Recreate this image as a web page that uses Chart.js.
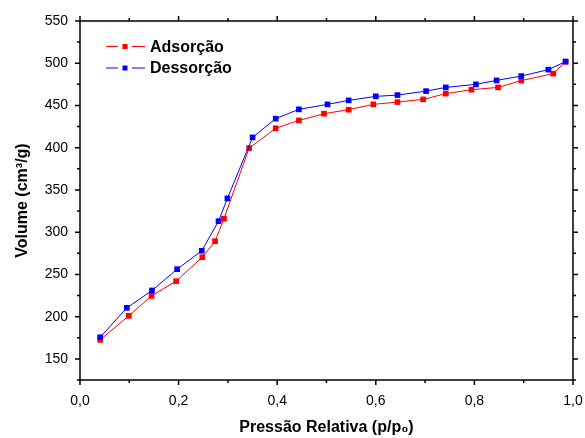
<!DOCTYPE html>
<html><head><meta charset="utf-8">
<script src="https://cdn.jsdelivr.net/npm/chart.js@4/dist/chart.umd.min.js"></script>
<style>html,body{margin:0;padding:0;background:#fff}</style>
</head><body>
<canvas id="c" width="585" height="438"></canvas>
<script>
const seriesNames = ['Adsorção', 'Dessorção'];
const adsX = [0.041, 0.099, 0.145, 0.195, 0.248, 0.274, 0.292, 0.343, 0.397, 0.444, 0.495, 0.545, 0.595, 0.644, 0.696, 0.742, 0.794, 0.848, 0.895, 0.960, 0.985];
const adsY = [172.5, 201, 224.6, 242, 270.4, 289.3, 316, 399.5, 423, 432.3, 440.3, 445, 451.3, 454, 457.2, 464, 468.7, 471.4, 479.4, 487.7, 501.9];
const desX = [0.041, 0.095, 0.146, 0.197, 0.247, 0.281, 0.299, 0.350, 0.397, 0.444, 0.502, 0.545, 0.600, 0.644, 0.702, 0.742, 0.803, 0.845, 0.895, 0.950, 0.985];
const desY = [175.6, 210.4, 231, 256.2, 278, 313, 340, 412.2, 434.4, 445.4, 451.3, 456, 460.8, 462.3, 467, 471.4, 475, 479.7, 484.8, 492.4, 501.9];
const xTicks = [0, 0.2, 0.4, 0.6, 0.8, 1.0];
const xMinorTicks = [0.1, 0.3, 0.5, 0.7, 0.9];
const yTicks = [150, 200, 250, 300, 350, 400, 450, 500, 550];
const yMinorTicks = [125, 175, 225, 275, 325, 375, 425, 475, 525];
const xTitle = 'Pressão Relativa (p/p\u2080)';
const yTitle = 'Volume (cm\u00B3/g)';
const colors = ['#FF0000', '#0000FF'];

const FONT = "'Liberation Sans', Arial, sans-serif";

const pts = (xs, ys) => xs.map((v, i) => ({x: v, y: ys[i]}));

const framePlugin = {
  id: 'frame',
  afterDraw(chart) {
    const {ctx, chartArea: a, scales: {x, y}} = chart;
    ctx.save();
    ctx.strokeStyle = '#000';
    ctx.lineWidth = 1.5;
    ctx.strokeRect(a.left, a.top, a.right - a.left, a.bottom - a.top);
    ctx.beginPath();
    const xt = (v, len) => {
      const px = x.getPixelForValue(v);
      ctx.moveTo(px, a.bottom); ctx.lineTo(px, a.bottom + len);
      ctx.moveTo(px, a.top); ctx.lineTo(px, a.top - len);
    };
    const yt = (v, len) => {
      const py = y.getPixelForValue(v);
      ctx.moveTo(a.left, py); ctx.lineTo(a.left - len, py);
      ctx.moveTo(a.right, py); ctx.lineTo(a.right + len, py);
    };
    xTicks.forEach(v => xt(v, 5));
    xMinorTicks.forEach(v => xt(v, 3));
    yTicks.forEach(v => yt(v, 5));
    yMinorTicks.forEach(v => yt(v, 3));
    ctx.stroke();

    // legend
    chart.data.datasets.forEach((ds, i) => {
      const ly = a.top + 25.5 + i * 21.5;
      const lx = a.left + 26;
      ctx.strokeStyle = ds.borderColor;
      ctx.lineWidth = 1;
      ctx.beginPath();
      ctx.moveTo(lx, ly); ctx.lineTo(lx + 12, ly);
      ctx.moveTo(lx + 26, ly); ctx.lineTo(lx + 39, ly);
      ctx.stroke();
      ctx.fillStyle = ds.borderColor;
      ctx.fillRect(lx + 16.5, ly - 2.5, 5, 5);
      ctx.fillStyle = '#000';
      ctx.font = 'bold 16px ' + FONT;
      ctx.textBaseline = 'middle';
      ctx.textAlign = 'left';
      ctx.fillText(ds.label, lx + 44, ly + 1);
    });
    ctx.restore();
  }
};

new Chart(document.getElementById('c'), {
  type: 'scatter',
  data: {
    datasets: [
      {label: seriesNames[0], data: pts(adsX, adsY), borderColor: colors[0], backgroundColor: colors[0],
       showLine: true, borderWidth: 1, pointStyle: 'rect', pointRadius: 4, pointBorderWidth: 0, order: 1},
      {label: seriesNames[1], data: pts(desX, desY), borderColor: colors[1], backgroundColor: colors[1],
       showLine: true, borderWidth: 1, pointStyle: 'rect', pointRadius: 4, pointBorderWidth: 0, order: 0}
    ]
  },
  options: {
    responsive: false,
    devicePixelRatio: 1,
    animation: false,
    layout: {padding: {top: 21, right: 12, left: 0, bottom: 0}},
    plugins: {legend: {display: false}, tooltip: {enabled: false}},
    scales: {
      x: {
        type: 'linear', min: 0, max: 1,
        afterBuildTicks: s => { s.ticks = xTicks.map(v => ({value: v})); },
        afterFit: s => { s.height = 58; s.paddingLeft = 0; s.paddingRight = 0; },
        grid: {display: true, drawOnChartArea: false, drawTicks: true, tickLength: 5, tickColor: 'rgba(0,0,0,0)'},
        border: {display: false},
        ticks: {
          autoSkip: false, maxRotation: 0, padding: 8, color: '#000',
          font: {family: FONT, size: 14},
          callback: v => v.toFixed(1).replace('.', ',')
        },
        title: {display: true, text: xTitle, color: '#000', font: {family: FONT, size: 16, weight: 'bold'}, padding: {top: 0, bottom: 1}}
      },
      y: {
        type: 'linear', min: 125, max: 550,
        afterBuildTicks: s => { s.ticks = yTicks.map(v => ({value: v})); },
        afterFit: s => { s.width = 80; s.paddingTop = 0; s.paddingBottom = 0; },
        grid: {display: true, drawOnChartArea: false, drawTicks: true, tickLength: 5, tickColor: 'rgba(0,0,0,0)'},
        border: {display: false},
        ticks: {padding: 7, color: '#000', font: {family: FONT, size: 14}},
        title: {display: true, text: yTitle, color: '#000', font: {family: FONT, size: 16, weight: 'bold'}, padding: {top: 13, bottom: 0}}
      }
    }
  },
  plugins: [framePlugin]
});
</script>
</body></html>
